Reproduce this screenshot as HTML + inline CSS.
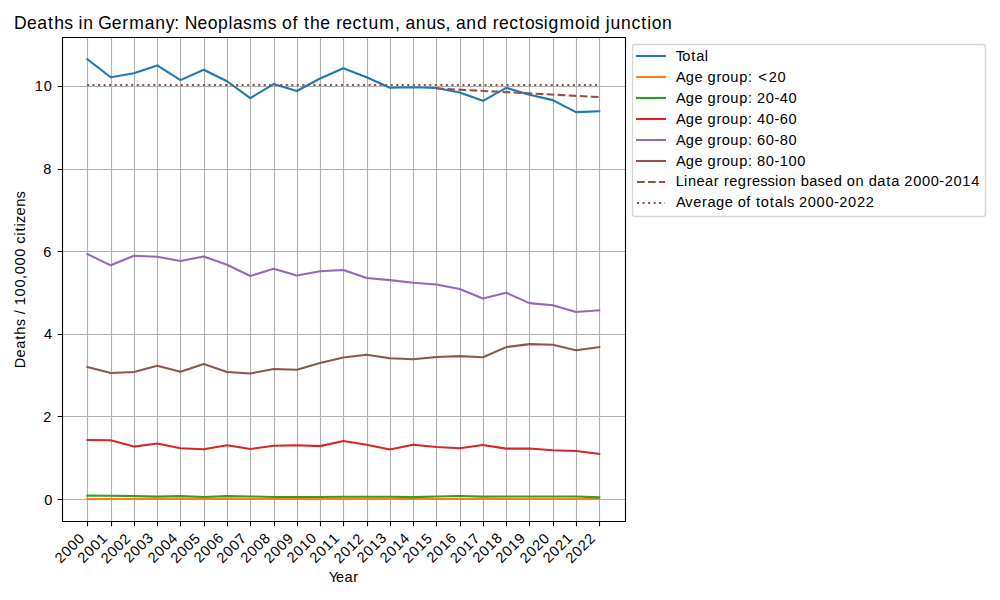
<!DOCTYPE html><html><head><meta charset="utf-8"><style>html,body{margin:0;padding:0;background:#fff;}svg{display:block;}text{font-family:"Liberation Sans",sans-serif;fill:#000;}</style></head><body>
<svg width="1000" height="600" viewBox="0 0 1000 600">
<rect x="0" y="0" width="1000" height="600" fill="#fff"/>
<g id="geom">
<path d="M87.5 37.5V521.5M111.5 37.5V521.5M134.5 37.5V521.5M157.5 37.5V521.5M180.5 37.5V521.5M204.5 37.5V521.5M227.5 37.5V521.5M250.5 37.5V521.5M274.5 37.5V521.5M297.5 37.5V521.5M320.5 37.5V521.5M343.5 37.5V521.5M367.5 37.5V521.5M390.5 37.5V521.5M413.5 37.5V521.5M436.5 37.5V521.5M460.5 37.5V521.5M483.5 37.5V521.5M506.5 37.5V521.5M529.5 37.5V521.5M553.5 37.5V521.5M576.5 37.5V521.5M599.5 37.5V521.5M62.5 499.5H625.5M62.5 416.5H625.5M62.5 334.5H625.5M62.5 251.5H625.5M62.5 169.5H625.5M62.5 86.5H625.5" stroke="#b0b0b0" stroke-width="1.1111" fill="none"/>
<g fill="none" stroke-width="2.0833" stroke-linejoin="round" stroke-linecap="square">
<polyline points="87.44,59.32 110.71,77.22 133.97,73.22 157.23,65.42 180.50,80.12 203.76,69.72 227.03,81.22 250.29,98.12 273.56,84.12 296.82,91.02 320.09,78.52 343.35,68.22 366.61,77.32 389.88,87.72 413.14,87.32 436.41,88.02 459.67,92.52 482.94,100.82 506.20,87.82 529.47,94.72 552.73,100.12 575.99,112.12 599.26,111.22" stroke="#1f77b4"/>
<path d="M87.00 499.0H599.00" stroke="#ff7f0e"/>
<polyline points="87.44,495.62 110.71,495.82 133.97,496.12 157.23,496.62 180.50,496.12 203.76,497.02 227.03,496.12 250.29,496.42 273.56,497.02 296.82,497.02 320.09,497.02 343.35,496.72 366.61,496.72 389.88,496.72 413.14,497.12 436.41,496.42 459.67,496.02 482.94,496.62 506.20,496.52 529.47,496.52 552.73,496.52 575.99,496.42 599.26,497.32" stroke="#2ca02c"/>
<polyline points="87.44,439.92 110.71,440.22 133.97,446.62 157.23,443.42 180.50,448.22 203.76,449.32 227.03,445.22 250.29,449.02 273.56,445.82 296.82,445.32 320.09,446.12 343.35,441.02 366.61,444.82 389.88,449.52 413.14,444.72 436.41,446.92 459.67,448.22 482.94,445.02 506.20,448.62 529.47,448.52 552.73,450.32 575.99,450.92 599.26,453.82" stroke="#d62728"/>
<polyline points="87.44,254.12 110.71,265.32 133.97,255.72 157.23,256.72 180.50,261.02 203.76,256.52 227.03,264.72 250.29,276.02 273.56,268.82 296.82,275.52 320.09,271.22 343.35,269.92 366.61,277.92 389.88,280.12 413.14,282.82 436.41,284.42 459.67,288.92 482.94,298.42 506.20,292.72 529.47,303.12 552.73,305.32 575.99,311.92 599.26,310.32" stroke="#9467bd"/>
<polyline points="87.44,366.92 110.71,373.02 133.97,371.92 157.23,365.82 180.50,371.72 203.76,363.92 227.03,371.92 250.29,373.52 273.56,369.02 296.82,369.82 320.09,362.92 343.35,357.52 366.61,354.82 389.88,358.32 413.14,359.32 436.41,356.92 459.67,356.12 482.94,357.22 506.20,347.12 529.47,344.12 552.73,344.72 575.99,350.32 599.26,347.12" stroke="#8c564b"/>
</g>
<path d="M436.41 88.42L599.26 97.12" stroke="#8c564b" stroke-width="2.0833" fill="none" stroke-dasharray="7.7083 3.3333"/>
<path d="M87.00 85.0H599.00" stroke="#8c564b" stroke-width="2.0833" fill="none" stroke-dasharray="2.0833 3.4375"/>
<path d="M62.5 37.5V521.5H625.5V37.5Z" stroke="#000" stroke-width="1.1111" fill="none" stroke-linejoin="miter" stroke-linecap="square"/>
<path d="M87.5 521.50V526.36M111.5 521.50V526.36M134.5 521.50V526.36M157.5 521.50V526.36M180.5 521.50V526.36M204.5 521.50V526.36M227.5 521.50V526.36M250.5 521.50V526.36M274.5 521.50V526.36M297.5 521.50V526.36M320.5 521.50V526.36M343.5 521.50V526.36M367.5 521.50V526.36M390.5 521.50V526.36M413.5 521.50V526.36M436.5 521.50V526.36M460.5 521.50V526.36M483.5 521.50V526.36M506.5 521.50V526.36M529.5 521.50V526.36M553.5 521.50V526.36M576.5 521.50V526.36M599.5 521.50V526.36M57.64 499.5H62.5M57.64 416.5H62.5M57.64 334.5H62.5M57.64 251.5H62.5M57.64 169.5H62.5M57.64 86.5H62.5" stroke="#000" stroke-width="1.1111" fill="none"/>
<rect x="632.5" y="44.5" width="353" height="172" rx="2.78" ry="2.78" fill="#fff" fill-opacity="0.8" stroke="#cccccc" stroke-opacity="0.8" stroke-width="1.3889"/>
<path d="M636 56.0H666" stroke="#1f77b4" stroke-width="2.0833"/>
<path d="M636 77.0H666" stroke="#ff7f0e" stroke-width="2.0833"/>
<path d="M636 98.0H666" stroke="#2ca02c" stroke-width="2.0833"/>
<path d="M636 119.0H666" stroke="#d62728" stroke-width="2.0833"/>
<path d="M636 140.0H666" stroke="#9467bd" stroke-width="2.0833"/>
<path d="M636 161.0H666" stroke="#8c564b" stroke-width="2.0833"/>
<path d="M637 182.0H665" stroke="#8c564b" stroke-width="2.0833" stroke-dasharray="7.7083 3.3333"/>
<path d="M637 203.0H665" stroke="#8c564b" stroke-width="2.0833" stroke-dasharray="2.0833 3.4375"/>
</g>
<g id="texts">
<text id="title" transform="translate(14.00 28.50) scale(1.0000 1)" font-size="17.53" x="0.09 13.05 23.26 34.05 40.14 50.23 59.15 64.59 69.24 79.59 84.30 97.79 108.28 115.17 130.78 141.14 151.82 160.24 165.68 170.65 183.44 193.64 204.00 214.51 218.99 228.90 238.42 253.76 262.68 267.97 278.42 283.98 289.89 295.98 306.36 316.55 322.13 328.34 338.51 348.28 354.38 365.32 380.92 386.20 391.50 401.87 412.40 422.49 431.41 436.69 442.00 452.36 462.90 473.25 478.83 485.04 495.21 504.99 510.90 520.80 529.87 534.54 545.49 561.10 571.41 576.08 586.43 591.87 596.53 607.06 617.39 627.17 633.22 637.69 648.05">Deaths in Germany: Neoplasms of the rectum, anus, and rectosigmoid junction</text>
<text id="xlabel" transform="translate(329.25 581.50) scale(1.0000 1)" font-size="14.61" x="-0.63 6.81 15.33 24.06">Year</text>
<text id="ylabel" transform="translate(24.50 368.25) rotate(-90) scale(1.0000 1)" font-size="14.61" x="0.07 10.89 19.41 28.42 33.50 41.92 49.36 53.91 58.45 63.04 71.86 80.69 89.34 93.93 102.76 111.59 120.24 124.63 132.40 136.65 141.70 145.24 152.74 161.40 169.83">Deaths / 100,000 citizens</text>
<text id="yt_0" transform="translate(44.00 504.50) scale(1.0000 1)" font-size="14.61" x="0.36">0</text>
<text id="yt_2" transform="translate(43.00 421.50) scale(1.0000 1)" font-size="14.61" x="0.36">2</text>
<text id="yt_4" transform="translate(43.75 338.50) scale(1.0000 1)" font-size="14.61" x="0.36">4</text>
<text id="yt_6" transform="translate(43.00 256.50) scale(1.0000 1)" font-size="14.61" x="0.36">6</text>
<text id="yt_8" transform="translate(43.00 173.50) scale(1.0000 1)" font-size="14.61" x="0.36">8</text>
<text id="yt_10" transform="translate(34.50 90.50) scale(1.0000 1)" font-size="14.61" x="0.36 9.18">10</text>
<text id="xt_2000" transform="translate(60.50 564.25) rotate(-45) scale(1.0000 1)" font-size="14.61" x="0.36 9.18 18.01 26.84">2000</text>
<text id="xt_2001" transform="translate(83.25 564.00) rotate(-45) scale(1.0000 1)" font-size="14.61" x="0.36 9.18 18.01 26.84">2001</text>
<text id="xt_2002" transform="translate(106.50 564.50) rotate(-45) scale(1.0000 1)" font-size="14.61" x="0.36 9.18 18.01 26.84">2002</text>
<text id="xt_2003" transform="translate(129.25 563.75) rotate(-45) scale(1.0000 1)" font-size="14.61" x="0.36 9.18 18.01 26.84">2003</text>
<text id="xt_2004" transform="translate(153.50 564.00) rotate(-45) scale(1.0000 1)" font-size="14.61" x="0.36 9.18 18.01 26.84">2004</text>
<text id="xt_2005" transform="translate(176.25 564.25) rotate(-45) scale(1.0000 1)" font-size="14.61" x="0.36 9.18 18.01 26.84">2005</text>
<text id="xt_2006" transform="translate(199.50 563.75) rotate(-45) scale(1.0000 1)" font-size="14.61" x="0.36 9.18 18.01 26.84">2006</text>
<text id="xt_2007" transform="translate(222.25 564.25) rotate(-45) scale(1.0000 1)" font-size="14.61" x="0.36 9.18 18.01 26.84">2007</text>
<text id="xt_2008" transform="translate(246.25 564.00) rotate(-45) scale(1.0000 1)" font-size="14.61" x="0.36 9.18 18.01 26.84">2008</text>
<text id="xt_2009" transform="translate(269.50 564.25) rotate(-45) scale(1.0000 1)" font-size="14.61" x="0.36 9.18 18.01 26.84">2009</text>
<text id="xt_2010" transform="translate(292.50 563.75) rotate(-45) scale(1.0000 1)" font-size="14.61" x="0.36 9.18 18.01 26.84">2010</text>
<text id="xt_2011" transform="translate(315.25 564.00) rotate(-45) scale(1.0000 1)" font-size="14.61" x="0.36 9.18 18.01 26.84">2011</text>
<text id="xt_2012" transform="translate(339.50 564.50) rotate(-45) scale(1.0000 1)" font-size="14.61" x="0.36 9.18 18.01 26.84">2012</text>
<text id="xt_2013" transform="translate(362.50 563.75) rotate(-45) scale(1.0000 1)" font-size="14.61" x="0.36 9.18 18.01 26.84">2013</text>
<text id="xt_2014" transform="translate(385.50 564.00) rotate(-45) scale(1.0000 1)" font-size="14.61" x="0.36 9.18 18.01 26.84">2014</text>
<text id="xt_2015" transform="translate(408.25 564.25) rotate(-45) scale(1.0000 1)" font-size="14.61" x="0.36 9.18 18.01 26.84">2015</text>
<text id="xt_2016" transform="translate(432.25 563.75) rotate(-45) scale(1.0000 1)" font-size="14.61" x="0.36 9.18 18.01 26.84">2016</text>
<text id="xt_2017" transform="translate(455.75 564.25) rotate(-45) scale(1.0000 1)" font-size="14.61" x="0.36 9.18 18.01 26.84">2017</text>
<text id="xt_2018" transform="translate(478.25 563.75) rotate(-45) scale(1.0000 1)" font-size="14.61" x="0.36 9.18 18.01 26.84">2018</text>
<text id="xt_2019" transform="translate(501.25 564.00) rotate(-45) scale(1.0000 1)" font-size="14.61" x="0.36 9.18 18.01 26.84">2019</text>
<text id="xt_2020" transform="translate(525.50 564.25) rotate(-45) scale(1.0000 1)" font-size="14.61" x="0.36 9.18 18.01 26.84">2020</text>
<text id="xt_2021" transform="translate(548.50 564.00) rotate(-45) scale(1.0000 1)" font-size="14.61" x="0.36 9.18 18.01 26.84">2021</text>
<text id="xt_2022" transform="translate(571.25 564.25) rotate(-45) scale(1.0000 1)" font-size="14.61" x="0.36 9.18 18.01 26.84">2022</text>
<text id="lg_0" transform="translate(676.00 60.50) scale(1.0000 1)" font-size="14.61" x="-0.22 6.29 15.28 20.22 28.84">Total</text>
<text id="lg_1" transform="translate(676.00 81.50) scale(1.0000 1)" font-size="14.61" x="-0.12 9.84 18.51 27.01 31.59 40.48 45.69 54.33 63.14 71.91 76.45 82.24 92.66 101.49">Age group: &lt;20</text>
<text id="lg_2" transform="translate(676.00 102.50) scale(1.0000 1)" font-size="14.61" x="-0.12 9.84 18.51 27.01 31.59 40.48 45.69 54.33 63.14 71.91 76.45 81.04 89.87 98.41 103.70 112.53">Age group: 20-40</text>
<text id="lg_3" transform="translate(676.00 123.50) scale(1.0000 1)" font-size="14.61" x="-0.12 9.84 18.51 27.01 31.59 40.48 45.69 54.33 63.14 71.91 76.45 81.04 89.87 98.41 103.70 112.53">Age group: 40-60</text>
<text id="lg_4" transform="translate(676.00 144.50) scale(1.0000 1)" font-size="14.61" x="-0.12 9.84 18.51 27.01 31.59 40.48 45.69 54.33 63.14 71.91 76.45 81.04 89.87 98.41 103.70 112.53">Age group: 60-80</text>
<text id="lg_5" transform="translate(676.00 165.50) scale(1.0000 1)" font-size="14.61" x="-0.12 9.84 18.51 27.01 31.59 40.48 45.69 54.33 63.14 71.91 76.45 81.04 89.87 98.41 103.70 112.53 121.36">Age group: 80-100</text>
<text id="lg_6" transform="translate(676.00 185.50) scale(1.0000 1)" font-size="14.61" x="-0.19 8.04 11.92 20.59 29.11 37.84 43.30 47.95 53.20 61.87 70.75 75.99 84.29 91.52 99.09 102.82 111.46 120.09 124.67 133.33 141.60 149.08 157.75 166.39 170.81 179.45 188.08 192.66 201.31 210.32 215.26 223.74 228.33 237.16 245.99 254.82 263.36 268.65 277.48 286.30 295.13">Linear regression based on data 2000-2014</text>
<text id="lg_7" transform="translate(676.00 206.50) scale(1.0000 1)" font-size="14.61" x="-0.12 9.20 17.16 25.91 31.39 40.04 48.71 57.22 61.64 70.35 75.00 79.93 84.86 93.86 98.80 107.41 110.93 118.37 122.96 131.78 140.61 149.44 157.98 163.27 172.10 180.93 189.76">Average of totals 2000-2022</text>
</g></svg></body></html>
